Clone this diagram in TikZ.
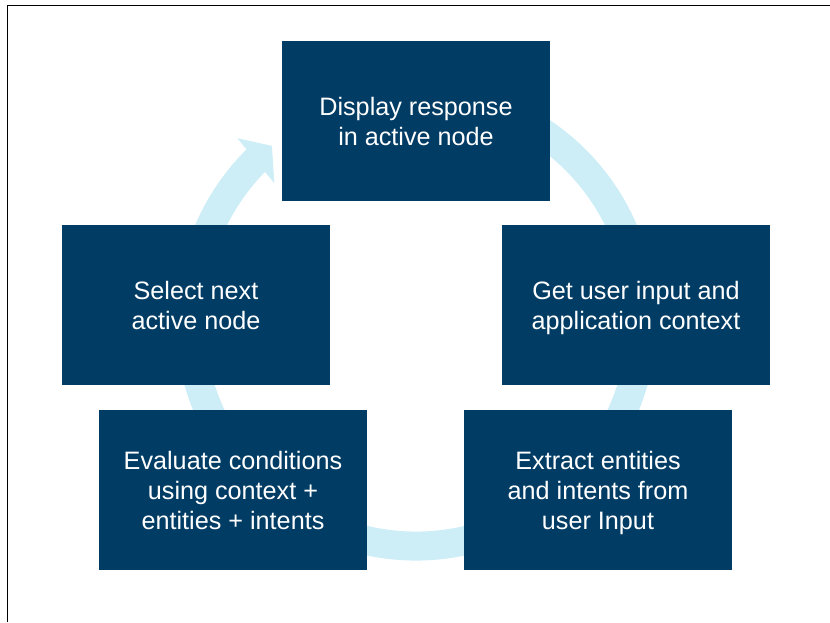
\documentclass[tikz,border=0pt]{standalone}
\usepackage{fontspec}
\setmainfont{Liberation Sans}
\usetikzlibrary{calc}
\definecolor{navy}{HTML}{013C65}
\definecolor{ringblue}{HTML}{CDEEF7}
\begin{document}
\begin{tikzpicture}[x=0.75pt,y=-0.75pt,
  stepbox/.style={rectangle, fill=navy, text=white, inner sep=0pt,
    minimum width=201pt, minimum height=119.6pt, align=center,
    font=\fontsize{18.9pt}{22.5pt}\selectfont}]
\useasboundingbox (0,0) rectangle (830,622);
% frame lines
\draw[line width=0.8pt] (7.3,622) -- (7.3,5.5) -- (830,5.5);
% ring
\coordinate (c) at (416,320);
\draw[ringblue, line width=21.75pt] ($(c)+(-70:226)$) arc[start angle=-70, end angle=225.5, radius=226];
\fill[ringblue] ($(c)+(225.5:255)$) -- ($(c)+(230.4:226)$) -- ($(c)+(224:197)$) -- cycle;
% boxes
\node[stepbox] (display) at (416,121) {Display response\\in active node};
\node[stepbox] (select) at (196,305) {Select next\\active node};
\node[stepbox] (getinput) at (636,305) {Get user input and\\\smash{application context}};
\node[stepbox] (evaluate) at (233,490) {Evaluate conditions\\using context +\\entities + intents};
\node[stepbox] (extract) at (598,490) {Extract entities\\and intents from\\\smash{user Input}};
\end{tikzpicture}
\end{document}
